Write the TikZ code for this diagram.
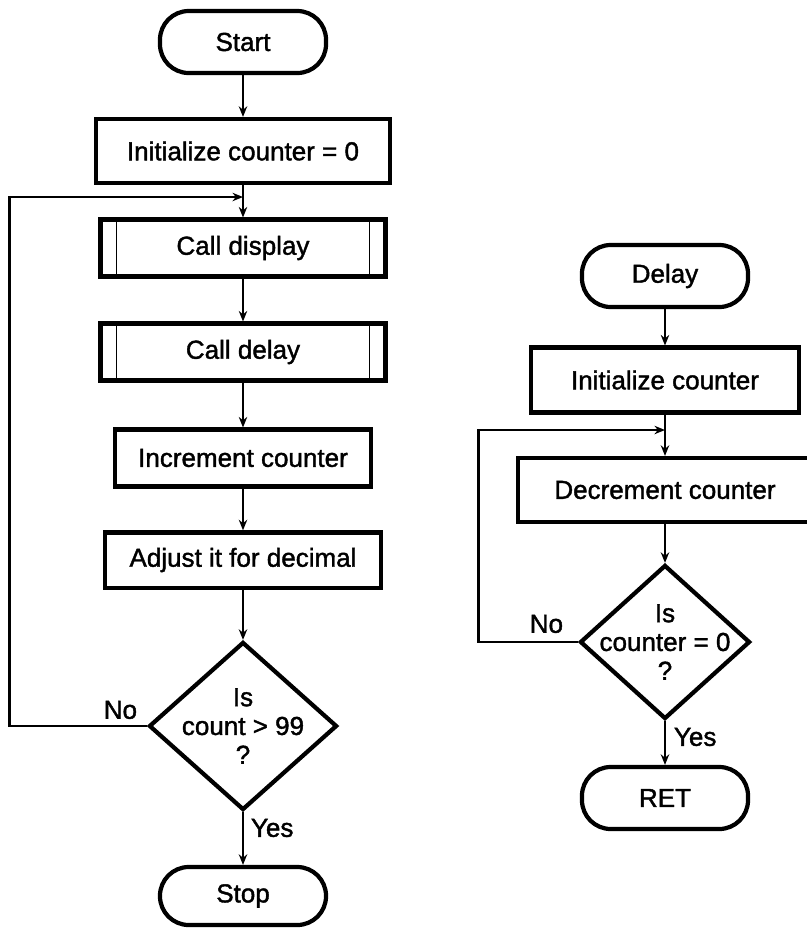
\documentclass[tikz,border=0pt]{standalone}
\usepackage{fontspec}
\newfontfamily\flowfont[FakeBold=1.5]{Liberation Sans}
\usetikzlibrary{shapes.geometric,arrows.meta}

\begin{document}
\begin{tikzpicture}[x=0.025cm,y=-0.025cm,
	every node/.style={font=\flowfont\fontsize{18.5}{20.5}\selectfont},
	term/.style={draw,line width=3pt,rounded corners=0.72cm,minimum width=4.15cm,minimum height=1.55cm},
	proc/.style={draw,line width=3pt,minimum height=1.42cm},
	subr/.style={proc,minimum width=7.12cm,
		path picture={\draw[line width=1.3pt]
			([xshift=0.4cm]path picture bounding box.north west) -- ([xshift=0.4cm]path picture bounding box.south west)
			([xshift=-0.4cm]path picture bounding box.north east) -- ([xshift=-0.4cm]path picture bounding box.south east);}},
	decide/.style={draw,diamond,line width=3pt,inner sep=0pt},
	flow/.style={line width=2pt,-{Stealth[length=7.5pt,width=6pt]}}]
	\useasboundingbox (0,0) rectangle (807,930);
	% main program
	\node[term] (start) at (243,42) {Start};
	\node[proc,minimum width=7.35cm,minimum height=1.6cm] (init) at (243,151) {Initialize counter = 0};
	\node[subr] (disp) at (243,248) {Call display};
	\node[subr] (dly) at (243,352) {Call delay};
	\node[proc,minimum width=6.38cm] (incr) at (243,458) {Increment counter};
	\node[proc,minimum width=6.88cm,minimum height=1.38cm] (adj) at (243,560) {Adjust it for decimal};
	\node[decide,minimum width=4.7cm,minimum height=4.2cm,
		label={[align=center]center:Is\\count > 99\\?}] (cnt) at (243,726) {};
	\node[term,minimum height=1.45cm] (stop) at (243,896) {Stop};
	\coordinate (jn1) at (243,197);
	\node[anchor=south east] (no1) at (142,724) {No};
	\node[anchor=west] (yes1) at (246,828) {Yes};

	\draw[flow] (start) -- (init);
	\draw[flow] (init) -- (disp);
	\draw[flow] (disp) -- (dly);
	\draw[flow] (dly) -- (incr);
	\draw[flow] (incr) -- (adj);
	\draw[flow] (adj) -- (cnt);
	\draw[flow] (cnt) -- (stop);
	\draw[flow] (cnt.west) -- ++(-137,0) |- (jn1);

	% delay subroutine
	\node[term] (delay) at (665,276) {Delay};
	\node[proc,minimum width=6.7cm,minimum height=1.62cm] (initc) at (665,380) {Initialize counter};
	\node[proc,minimum width=7.35cm,minimum height=1.6cm] (decc) at (665,490) {Decrement counter};
	\node[decide,minimum width=4.25cm,minimum height=3.85cm,
		label={[align=center]center:Is\\counter = 0\\?}] (zq) at (665,642) {};
	\node[term] (ret) at (665,798) {RET};
	\coordinate (jn2) at (665,430);
	\node[anchor=south east] (no2) at (568,638) {No};
	\node[anchor=west] (yes2) at (669,737) {Yes};

	\draw[flow] (delay) -- (initc);
	\draw[flow] (initc) -- (decc);
	\draw[flow] (decc) -- (zq);
	\draw[flow] (zq) -- (ret);
	\draw[flow] (zq.west) -- ++(-99,0) |- (jn2);
\end{tikzpicture}
\end{document}
